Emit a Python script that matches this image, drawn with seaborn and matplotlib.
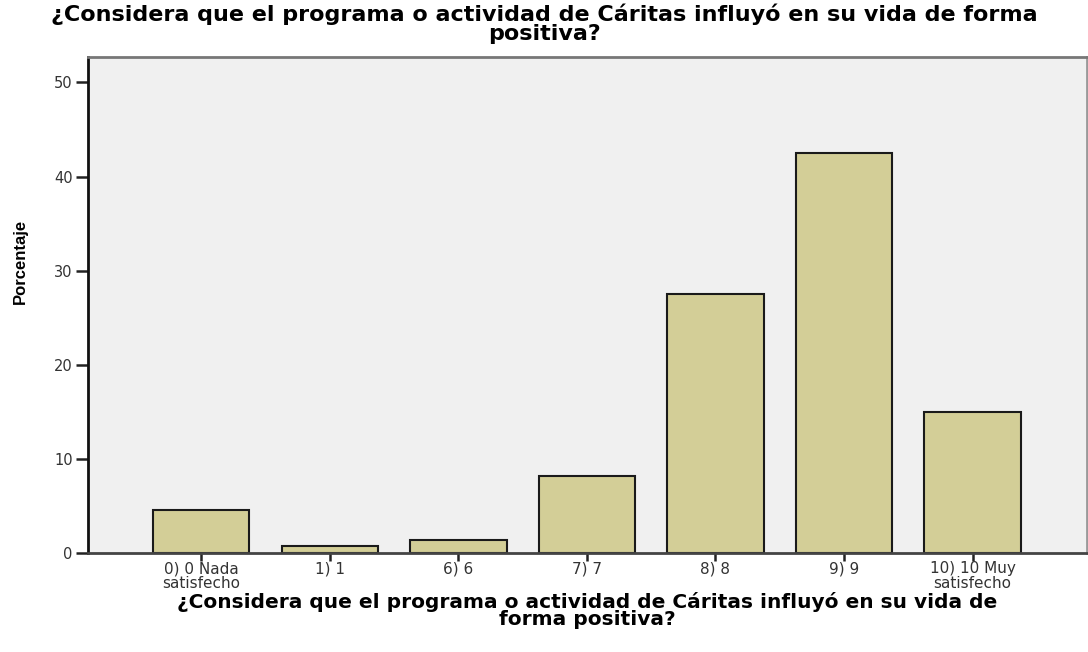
import matplotlib
matplotlib.use("Agg")
import matplotlib.pyplot as plt
import seaborn as sns
import pandas as pd

categories = ["0) 0 Nada\nsatisfecho", "1) 1", "6) 6", "7) 7", "8) 8", "9) 9", "10) 10 Muy\nsatisfecho"]
values = [4.6, 0.7, 1.4, 8.2, 27.5, 42.5, 15.0]
yticks = [0, 10, 20, 30, 40, 50]
title = "¿Considera que el programa o actividad de Cáritas influyó en su vida de forma\npositiva?"
xlabel = "¿Considera que el programa o actividad de Cáritas influyó en su vida de\nforma positiva?"
ylabel = "Porcentaje"

sns.set_theme(style="white")
plt.rcParams['font.family'] = ['DejaVu Sans', 'Liberation Sans']

df = pd.DataFrame({"cat": categories, "pct": values})

fig = plt.figure(figsize=(10.88, 6.52), dpi=100)
ax = fig.add_axes([88/1088, 1 - 553/652, (1087 - 88)/1088, (553 - 57)/652])
ax.set_facecolor("#F0F0F0")

sns.barplot(data=df, x="cat", y="pct", color="#D3CE97", saturation=1,
            edgecolor="#1a1a1a", linewidth=1.5, width=0.75, ax=ax)

ax.set_xlim(-0.88, 6.89)
ax.set_ylim(0, 52.7)
ax.set_yticks(yticks)
ax.set_yticklabels([str(t) for t in yticks], fontsize=10.5, color="#333333")
ax.tick_params(axis="y", direction="out", length=9, width=1.8, color="#222222", pad=2, left=True)
ax.tick_params(axis="x", direction="out", length=6, width=1.8, color="#222222", pad=0, bottom=True, labelsize=11)
for lbl in ax.get_xticklabels():
    lbl.set_linespacing(0.95)
    lbl.set_color("#333333")

ax.spines["left"].set_color("#111111")
ax.spines["left"].set_linewidth(2)
ax.spines["bottom"].set_color("#444444")
ax.spines["bottom"].set_linewidth(2)
ax.spines["top"].set_color("#777777")
ax.spines["top"].set_linewidth(2)
ax.spines["right"].set_color("#999999")
ax.spines["right"].set_linewidth(2)

ax.set_xlabel(xlabel, fontsize=14.5, fontweight="bold", labelpad=1, linespacing=0.85, color="black")
ax.set_ylabel(ylabel, fontsize=12, fontweight="bold", color="black", family=["Liberation Sans"])
ax.yaxis.set_label_coords(-0.060, 0.587)

fig.text(0.5, 0.994, title, ha="center", va="top", fontsize=16, fontweight="bold",
         linespacing=0.9, color="black")

fig.savefig("out.png", dpi=100)
